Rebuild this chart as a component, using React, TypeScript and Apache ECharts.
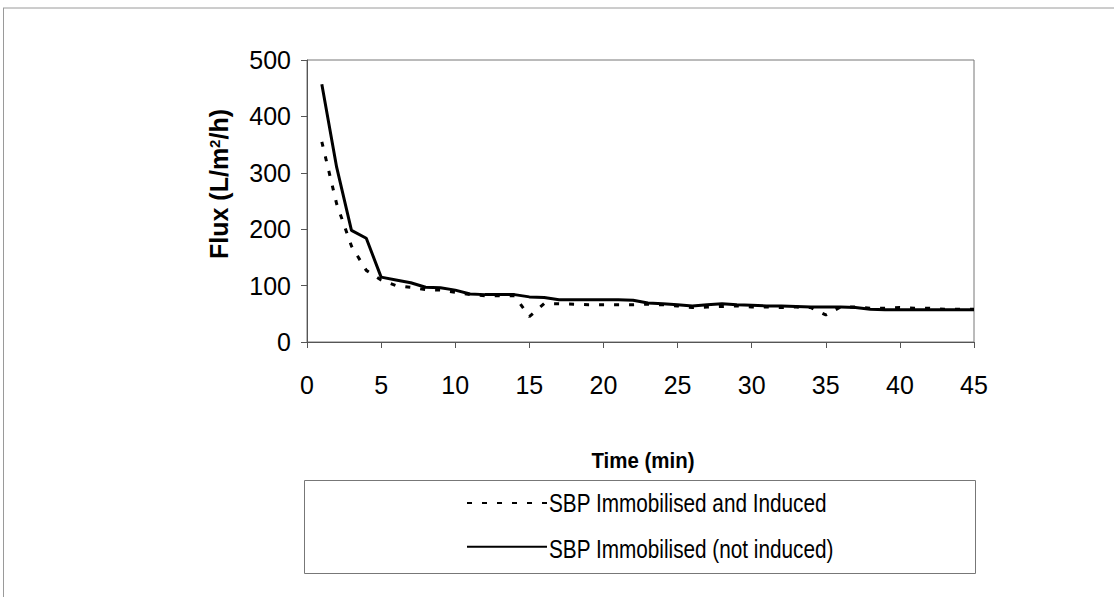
import React, { useEffect, useRef } from "react";
import * as echarts from "echarts";

// Time points (min)
const times = [
  1, 2, 3, 4, 5, 6, 7, 8, 9, 10, 11, 12, 13, 14, 15, 16, 17, 18, 19, 20, 21, 22, 23,
  24, 25, 26, 27, 28, 29, 30, 31, 32, 33, 34, 35, 36, 37, 38, 39, 40, 41, 42, 43, 44, 45,
];

// Flux (L/m2/h), immobilised and induced
const inducedFlux = [
  355, 245, 170, 127, 110, 100, 97, 93, 92, 88, 84, 82, 82, 82, 45, 68, 68, 67, 66, 66, 66, 66, 67,
  66, 64, 61, 62, 63, 64, 62, 62, 61, 62, 61, 48, 62, 62, 60, 60, 61, 60, 60, 58, 58, 58,
];

// Flux (L/m2/h), immobilised, not induced
const notInducedFlux = [
  457, 310, 198, 184, 115, 110, 105, 97, 96, 92, 85, 84, 84, 84, 80, 79, 75, 75, 75, 75, 75, 74, 69,
  68, 66, 64, 66, 68, 66, 65, 64, 64, 63, 62, 62, 62, 61, 58, 57, 57, 57, 57, 57, 57, 57,
];

const xTicks = { min: 0, max: 45, interval: 5 };
const yTicks = { min: 0, max: 500, interval: 100 };

const seriesNames = ["SBP Immobilised and Induced", "SBP Immobilised (not induced)"];

const pairs = (ys: number[]) => times.map((t, i) => [t, ys[i]]);

export default function App() {
  const ref = useRef<HTMLDivElement>(null);

  useEffect(() => {
    if (!ref.current) return;
    const chart = echarts.init(ref.current, null, { renderer: "svg" });
    const axisColor = "#555";
    const labelFont = "'Liberation Sans', Arial, sans-serif";

    // horizontally condensed text for the legend entries and the x title
    const narrowText = (text: string, x: number, y: number, opts: any = {}) => ({
      type: "text",
      x,
      y,
      scaleX: opts.scaleX ?? 0.83,
      silent: true,
      style: {
        text,
        align: opts.align ?? "left",
        verticalAlign: "middle",
        fontSize: opts.fontSize ?? 25,
        fontWeight: opts.fontWeight ?? "normal",
        fontFamily: labelFont,
        fill: "#000",
      },
    });

    chart.setOption({
      animation: false,
      backgroundColor: "#fff",
      grid: {
        left: 307,
        right: 140,
        top: 60,
        bottom: 255,
        show: true,
        borderColor: "#777",
        borderWidth: 1,
      },
      xAxis: {
        type: "value",
        min: xTicks.min,
        max: xTicks.max,
        interval: xTicks.interval,
        axisLine: { show: true, lineStyle: { color: axisColor, width: 1 } },
        axisTick: { show: true, inside: false, length: 6, lineStyle: { color: axisColor } },
        splitLine: { show: false },
        axisLabel: { color: "#000", fontSize: 25, fontFamily: labelFont, margin: 30 },
      },
      yAxis: {
        type: "value",
        min: yTicks.min,
        max: yTicks.max,
        interval: yTicks.interval,
        axisLine: { show: true, lineStyle: { color: axisColor, width: 1 } },
        axisTick: { show: true, inside: false, length: 6, lineStyle: { color: axisColor } },
        splitLine: { show: false },
        axisLabel: { color: "#000", fontSize: 25, fontFamily: labelFont, margin: 16 },
      },
      legend: {
        orient: "vertical",
        left: 466,
        top: 492,
        padding: 0,
        itemWidth: 80,
        itemHeight: 22,
        itemGap: 24,
        data: seriesNames,
        formatter: () => "",
        itemStyle: { color: "rgba(0,0,0,0)", borderWidth: 0 },
        textStyle: { fontSize: 1 },
      },
      graphic: [
        // page frame
        { type: "line", shape: { x1: 3, y1: 8, x2: 1114, y2: 8 }, style: { stroke: "#9a9a9a", lineWidth: 1 }, silent: true },
        { type: "line", shape: { x1: 3.5, y1: 8, x2: 3.5, y2: 597 }, style: { stroke: "#9a9a9a", lineWidth: 1 }, silent: true },
        // legend frame and entries
        {
          type: "rect",
          shape: { x: 304.5, y: 480.5, width: 671, height: 93 },
          style: { fill: "none", stroke: "#777", lineWidth: 1 },
          silent: true,
        },
        narrowText(seriesNames[0], 549, 503),
        narrowText(seriesNames[1], 549, 549),
        // axis titles
        {
          type: "text",
          x: 219,
          y: 184,
          rotation: Math.PI / 2,
          style: {
            text: "{a|Flux (L/m}{s|2}{a|/h)}",
            align: "center",
            verticalAlign: "middle",
            rich: {
              a: { fontSize: 25, fontWeight: "bold", fontFamily: labelFont, fill: "#000" },
              s: { fontSize: 15, fontWeight: "bold", fontFamily: labelFont, fill: "#000", verticalAlign: "top", padding: [0, 0, 9, 0] },
            },
          },
          silent: true,
        },
        narrowText("Time (min)", 643, 461, { align: "center", fontSize: 22, fontWeight: "bold", scaleX: 0.93 }),
      ],
      series: [
        {
          name: seriesNames[0],
          type: "line",
          data: pairs(inducedFlux),
          symbol: "none",
          lineStyle: { color: "#000", width: 3, type: [5, 10] },
          itemStyle: { color: "#000" },
          z: 3,
        },
        {
          name: seriesNames[1],
          type: "line",
          data: pairs(notInducedFlux),
          symbol: "none",
          lineStyle: { color: "#000", width: 3, type: "solid" },
          itemStyle: { color: "#000" },
          z: 2,
        },
      ],
    });

    return () => chart.dispose();
  }, []);

  return (
    <div
      ref={ref}
      style={{ position: "fixed", left: 0, top: 0, width: 1114, height: 597, background: "#fff" }}
    />
  );
}
